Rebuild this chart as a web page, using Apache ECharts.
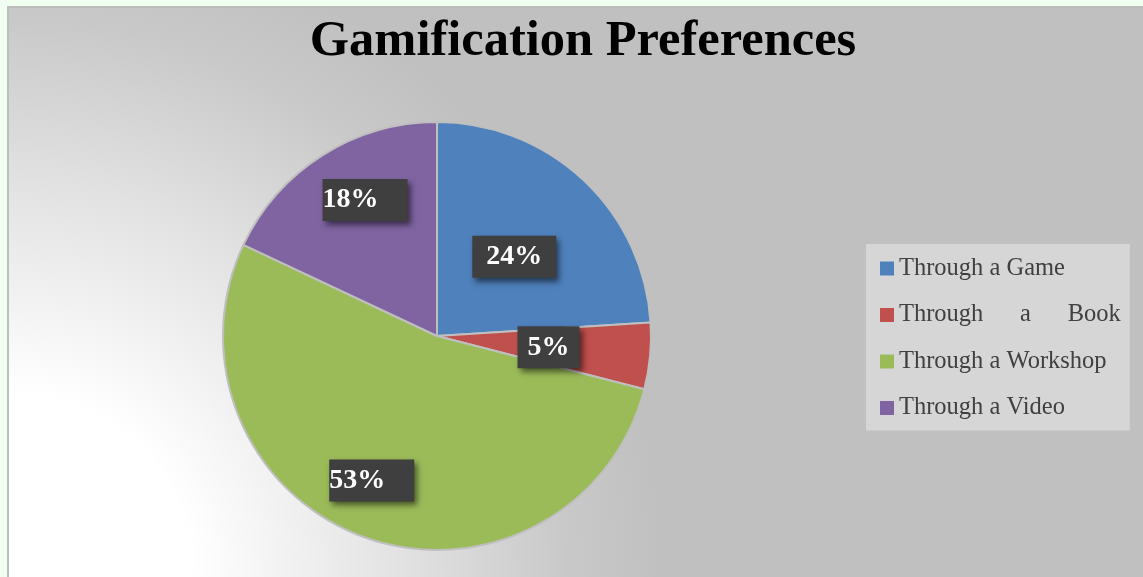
<!DOCTYPE html>
<html>
<head>
<meta charset="utf-8">
<style>
    body { margin: 0; background: #f0fff0; }
    #main {
        position: absolute; left: 7px; top: 6px;
        width: 1134px; height: 569px;
        border-left: 2px solid #bdbdbd; border-top: 2px solid #bdbdbd;
    }
</style>
<script src="https://cdn.jsdelivr.net/npm/echarts@6/dist/echarts.min.js"></script>
</head>
<body>
<div id="main"></div>
<script>
    // data
    var categories = ['Through a Game', 'Through a Book', 'Through a Workshop', 'Through a Video'];
    var shares = [24, 5, 53, 18];
    var colors = ['#4f81bd', '#c0504d', '#9bbb59', '#8064a2'];
    // label boxes were moved by hand in the original, so nudge them
    var labelShift = [[2, 1], [2, 1], [-28, 41], [-13, -43]];
    var labelPad = [[7, 14, 7, 14], [7, 10, 7, 10], [0, 29, 14, 0], [11, 29, 3, 0]];

    var serif = "'Liberation Serif', 'DejaVu Serif', serif";

    var pieData = [];
    for (var i = 0; i < categories.length; i++) {
        pieData.push({
            name: categories[i],
            value: shares[i],
            itemStyle: { color: colors[i] },
            label: { padding: labelPad[i] }
        });
    }

    var myChart = echarts.init(document.getElementById('main'));
    myChart.setOption({
        animation: false,
        backgroundColor: {
            type: 'radial', x: 0, y: 1, r: 1.15,
            colorStops: [
                { offset: 0, color: '#ffffff' },
                { offset: 0.28, color: '#ffffff' },
                { offset: 0.6, color: '#e2e2e2' },
                { offset: 0.85, color: '#c9c9c9' },
                { offset: 1, color: '#c0c0c0' }
            ]
        },
        title: {
            text: 'Gamification Preferences',
            left: 569, textAlign: 'center',
            top: 3,
            textStyle: { fontFamily: serif, fontWeight: 'bold', fontSize: 50.5, color: '#000' }
        },
        legend: {
            orient: 'vertical',
            left: 857, top: 236,
            padding: [12, 9, 10, 14],
            backgroundColor: '#d6d6d6',
            itemWidth: 14, itemHeight: 14, itemGap: 21.5,
            icon: 'rect',
            itemStyle: { borderWidth: 0 },
            data: categories,
            formatter: function (name) {
                // the book entry is justified in the original
                return name === 'Through a Book' ? 'Through      a      Book' : name;
            },
            textStyle: { fontFamily: serif, fontSize: 24.5, color: '#404040', lineHeight: 24 }
        },
        series: [{
            type: 'pie',
            center: [428, 328],
            radius: 214,
            startAngle: 90,
            silent: true,
            emphasis: { disabled: true },
            itemStyle: { borderColor: '#bfbfbf', borderWidth: 2 },
            label: {
                show: true,
                position: 'inside',
                formatter: '{d}%',
                fontFamily: serif, fontWeight: 'bold', fontSize: 28, lineHeight: 28,
                color: '#ffffff',
                backgroundColor: '#3f3f3f',
                shadowColor: 'rgba(0,0,0,0.55)', shadowBlur: 6,
                shadowOffsetX: 3, shadowOffsetY: 4
            },
            labelLayout: function (params) {
                var s = labelShift[params.dataIndex];
                return { dx: s[0], dy: s[1] };
            },
            data: pieData
        }]
    });
</script>
</body>
</html>
